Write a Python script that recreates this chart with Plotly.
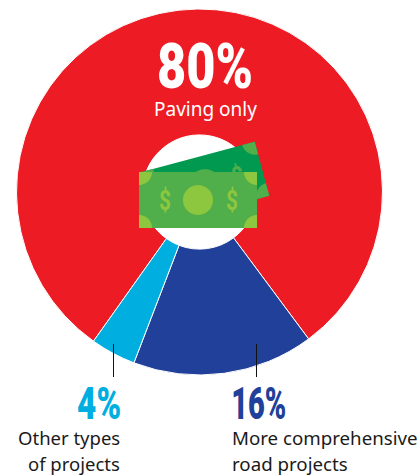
import json

import numpy as np
import plotly.graph_objects as go

W, H = 419, 476

# Share of road funding by project type
categories = ["Paving only", "More comprehensive road projects", "Other types of projects"]
shares = [80, 16, 4]
share_labels = ["80%", "16%", "4%"]
slice_colors = ["#ED1C24", "#21409A", "#00AEDF"]

BILL_FRONT = "#50AE4B"
BILL_BACK = "#00994F"
BILL_MARK = "#8DC63F"
BODY_FONT = "Noto Sans"
HEAD_FONT = "Roboto"

# Condensed display widths in pixels for the headline figures and currency signs
narrowed_text = {"80%": 96, "16%": 55, "4%": 44, "$": 12}


def px(x):
    return x / W


def py(y):
    return 1 - y / H


def polygon_path(points):
    return "M " + " L ".join(f"{px(x):.5f},{py(y):.5f}" for x, y in points) + " Z"


def bill_shapes(center, half_w, half_h, angle_deg, body, mark, corner_r, hub_r):
    """Banknote rectangle with corner quadrants and a central disc, rotated about its centre."""
    a = np.radians(angle_deg)
    ux, uy = np.cos(a), np.sin(a)
    vx, vy = -uy, ux

    def to_page(u, v):
        return center[0] + u * ux + v * vx, center[1] + u * uy + v * vy

    fill = dict(type="path", xref="paper", yref="paper", line_width=0)
    outline = [to_page(-half_w, -half_h), to_page(half_w, -half_h),
               to_page(half_w, half_h), to_page(-half_w, half_h)]
    out = [dict(fill, path=polygon_path(outline), fillcolor=body)]
    for sx, sy in [(-1, -1), (1, -1), (1, 1), (-1, 1)]:
        t = np.linspace(0, np.pi / 2, 16)
        pts = [to_page(sx * half_w, sy * half_h)]
        pts += [to_page(sx * (half_w - corner_r * np.cos(q)), sy * (half_h - corner_r * np.sin(q))) for q in t]
        out.append(dict(fill, path=polygon_path(pts), fillcolor=mark))
    t = np.linspace(0, 2 * np.pi, 48, endpoint=False)
    hub = [to_page(hub_r * np.cos(q), hub_r * np.sin(q)) for q in t]
    out.append(dict(fill, path=polygon_path(hub), fillcolor=mark))
    return out


def leader(x, y0, y1):
    return dict(type="line", xref="paper", yref="paper", x0=px(x), x1=px(x), y0=py(y0), y1=py(y1),
                line=dict(color="#111111", width=1))


def label(x, y, text, size, color, family, anchor="center", angle=0, weight="normal", height=None):
    return dict(xref="paper", yref="paper", x=px(x), y=py(y), text=text, showarrow=False,
                xanchor=anchor, yanchor="middle", textangle=angle, height=height,
                font=dict(size=size, color=color, family=family, weight=weight))


fig = go.Figure(
    go.Pie(
        labels=categories,
        values=shares,
        hole=0.312,
        sort=False,
        direction="clockwise",
        rotation=215.4,
        textinfo="none",
        marker=dict(colors=slice_colors, line=dict(color="#FFFFFF", width=1)),
        domain=dict(x=[px(16.5), px(382.5)], y=[py(375), py(9)]),
    )
)

shapes = bill_shapes((205, 184), 59, 28, -15, BILL_BACK, BILL_FRONT, 13, 15)
shapes += bill_shapes((198, 200), 59, 28, 0, BILL_FRONT, BILL_MARK, 13, 15)
shapes += [leader(113.5, 344, 377), leader(256.5, 344, 377)]

annotations = [
    label(238, 176, "$", 28, BILL_FRONT, HEAD_FONT, angle=-15, weight=700),
    label(165, 200, "$", 28, BILL_MARK, HEAD_FONT, weight=700),
    label(232, 200, "$", 28, BILL_MARK, HEAD_FONT, weight=700),
    label(204.5, 66.5, share_labels[0], 63, "#FFFFFF", HEAD_FONT, weight=900, height=52),
    label(205, 109, categories[0], 19, "#FFFFFF", BODY_FONT),
    label(98.5, 404, share_labels[2], 44, slice_colors[2], HEAD_FONT, weight=900),
    label(122, 437.5, "Other types", 18.5, "#1A1A1A", BODY_FONT, anchor="right"),
    label(122, 463, "of projects", 18.5, "#1A1A1A", BODY_FONT, anchor="right"),
    label(258.5, 404, share_labels[1], 44, slice_colors[1], HEAD_FONT, weight=900),
    label(230, 437.5, "More comprehensive", 18.7, "#1A1A1A", BODY_FONT, anchor="left"),
    label(230, 463, "road projects", 18.7, "#1A1A1A", BODY_FONT, anchor="left"),
]

fig.update_layout(
    width=W,
    height=H,
    autosize=False,
    margin=dict(l=0, r=0, t=0, b=0),
    paper_bgcolor="#FFFFFF",
    showlegend=False,
    shapes=shapes,
    annotations=annotations,
)

# The installed fonts have no condensed cut, so squeeze the headline glyphs in the browser
condense_text = """
var widths = %s;
document.querySelectorAll('.annotation-text').forEach(function (node) {
  var w = widths[node.textContent];
  if (w) {
    node.setAttribute('textLength', w);
    node.setAttribute('lengthAdjust', 'spacingAndGlyphs');
  }
});
""" % json.dumps(narrowed_text)

fig.write_html("out.html", config={"displayModeBar": False}, post_script=condense_text)
